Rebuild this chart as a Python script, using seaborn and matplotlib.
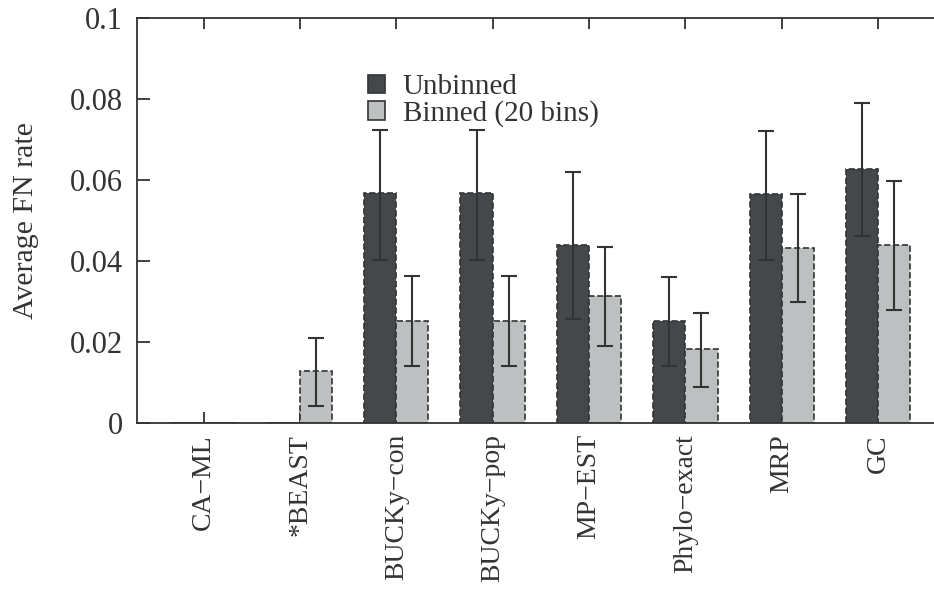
import numpy as np
import pandas as pd
import matplotlib
matplotlib.use("Agg")
import matplotlib.pyplot as plt
import seaborn as sns

# --- data ---
methods = ["CA\u2212ML", "*BEAST", "BUCKy\u2212con", "BUCKy\u2212pop",
           "MP\u2212EST", "Phylo\u2212exact", "MRP", "GC"]
series = ["Unbinned", "Binned (20 bins)"]

unbinned = [0.0, 0.0, 0.0568, 0.0568, 0.0440, 0.0252, 0.0565, 0.0627]
unbinned_lo = [np.nan, np.nan, 0.0402, 0.0402, 0.0257, 0.0141, 0.0402, 0.0462]
unbinned_hi = [np.nan, np.nan, 0.0723, 0.0723, 0.0620, 0.0360, 0.0721, 0.0790]

binned = [0.0, 0.0128, 0.0252, 0.0252, 0.0314, 0.0183, 0.0432, 0.0440]
binned_lo = [np.nan, 0.0042, 0.0141, 0.0141, 0.0190, 0.0089, 0.0299, 0.0279]
binned_hi = [np.nan, 0.0210, 0.0363, 0.0363, 0.0435, 0.0272, 0.0565, 0.0598]

colors = ["#43484c", "#bcc0c0"]
ink = "#333333"

df = pd.DataFrame({
    "method": methods * 2,
    "series": [series[0]] * len(methods) + [series[1]] * len(methods),
    "rate": unbinned + binned,
})

sns.set_style("ticks")
plt.rcParams["font.family"] = ["Liberation Serif", "DejaVu Serif"]

fig = plt.figure(figsize=(9.34, 5.91), dpi=100)
ax = fig.add_axes([0.1467, 0.2843, 0.8533, 0.6852])

sns.barplot(data=df, x="method", y="rate", hue="series", order=methods,
            hue_order=series, palette=colors, width=0.667, errorbar=None,
            edgecolor=ink, linewidth=1.2, linestyle="--", ax=ax)

# asymmetric error bars placed on the bars seaborn drew
for cont, vals, lo, hi in zip(ax.containers, [unbinned, binned],
                              [unbinned_lo, binned_lo], [unbinned_hi, binned_hi]):
    for bar, v, l, h in zip(cont, vals, lo, hi):
        if np.isnan(l):
            continue
        xc = bar.get_x() + bar.get_width() / 2
        ax.errorbar(xc, v, yerr=[[v - l], [h - v]], fmt="none",
                    ecolor=ink, elinewidth=1.5, capsize=5.5, capthick=1.5)

ax.set_xlim(-0.69, 7.58)
ax.set_ylim(0, 0.1)
ax.set_yticks([0, 0.02, 0.04, 0.06, 0.08, 0.1])
ax.set_yticklabels(["0", "0.02", "0.04", "0.06", "0.08", "0.1"])
ax.set_xlabel("")
ax.set_ylabel("Average FN rate", fontsize=21.5, color=ink, labelpad=22)

ax.tick_params(axis="y", direction="in", length=9, width=1.3, labelsize=22,
               colors=ink, pad=10)
ax.tick_params(axis="x", direction="in", length=8, width=1.3, labelsize=20,
               colors=ink, top=True, pad=8)
plt.setp(ax.get_xticklabels(), rotation=90)

for side in ["left", "top", "bottom"]:
    ax.spines[side].set_color(ink)
    ax.spines[side].set_linewidth(1.3)
ax.spines["right"].set_visible(False)

handles, labels = ax.get_legend_handles_labels()
for hd in handles:
    hd.set_linestyle("-")
ax.legend(handles, labels, loc="upper left", bbox_to_anchor=(0.275, 0.89),
          frameon=False, fontsize=21, handlelength=0.6, handleheight=0.6,
          handletextpad=0.6, labelspacing=0.0, borderaxespad=0,
          labelcolor=ink)

fig.savefig("out.png", dpi=100)
